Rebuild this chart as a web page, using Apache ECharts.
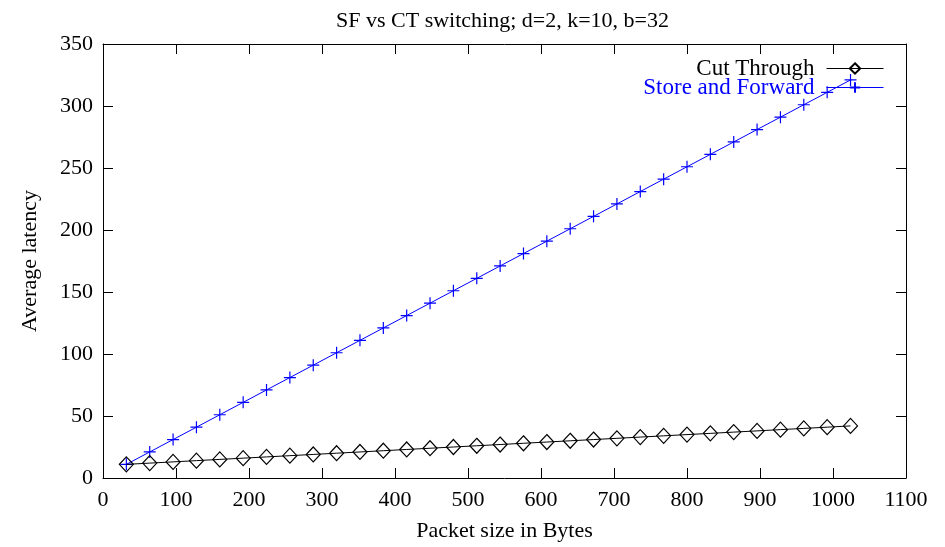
<!DOCTYPE html>
<html><head><meta charset="utf-8">
<script src="https://cdn.jsdelivr.net/npm/echarts@6/dist/echarts.min.js"></script>
<style>html,body{margin:0;padding:0;background:#fff}#c{width:945px;height:547px}</style>
</head><body><div id="c"></div>
<script>
var packetSizes = [32,64,96,128,160,192,224,256,288,320,352,384,416,448,480,512,544,576,608,640,672,704,736,768,800,832,864,896,928,960,992,1024];
var cutThrough = [11,12,13,14,15,16,17,18,19,20,21,22,23,24,25,26,27,28,29,30,31,32,33,34,35,36,37,38,39,40,41,42];
var storeForward = [11,21,31,41,51,61,71,81,91,101,111,121,131,141,151,161,171,181,191,201,211,221,231,241,251,261,271,281,291,301,311,321];
var titleText = 'SF vs CT switching; d=2, k=10, b=32';
var xName = 'Packet size in Bytes';
var yName = 'Average latency';

function pairs(xs, ys){ return xs.map(function(x,i){return [x, ys[i]];}); }
var FONT = '"Liberation Serif", "DejaVu Serif", serif';
var FS = 22;
var chart = echarts.init(document.getElementById('c'), null, {renderer:'canvas'});
function plain(v){ return String(v); }
var axisCommon = {
  axisLine:{show:true, onZero:false, lineStyle:{color:'#000', width:1}},
  axisTick:{show:true, inside:true, length:10, lineStyle:{color:'#000'}},
  splitLine:{show:false},
  nameTextStyle:{color:'#000', fontFamily:FONT, fontSize:FS}
};
chart.setOption({
  animation:false,
  backgroundColor:'#fff',
  title:{text:titleText, left:331, top:5, textStyle:{color:'#000', fontFamily:FONT, fontSize:22, fontWeight:'normal'}},
  grid:{left:103, right:39, top:44, bottom:65},
  legend:{
    right:56, top:52, orient:'vertical', align:'right', itemGap:-4, itemWidth:57, itemHeight:13,
    lineStyle:{width:1},
    textStyle:{fontFamily:FONT, fontSize:23, lineHeight:18, padding:[0,7,0,0]},
    data:[
      {name:'Cut Through', textStyle:{color:'#000'}},
      {name:'Store and Forward', textStyle:{color:'#0000ff'}}
    ]
  },
  xAxis:[
    Object.assign({type:'value', min:0, max:1100, interval:100, name:xName, nameLocation:'middle', nameGap:42}, axisCommon, {axisLabel:{color:'#000', fontFamily:FONT, fontSize:FS, margin:11, formatter:plain}}),
    Object.assign({type:'value', min:0, max:1100, interval:100, position:'top', gridIndex:0}, axisCommon, {axisLabel:{show:false}})
  ],
  yAxis:[
    Object.assign({type:'value', min:0, max:350, interval:50, name:yName, nameLocation:'middle', nameGap:62, nameRotate:90}, axisCommon, {axisLabel:{color:'#000', fontFamily:FONT, fontSize:FS, margin:10, formatter:plain}}),
    Object.assign({type:'value', min:0, max:350, interval:50, position:'right', gridIndex:0}, axisCommon, {axisLabel:{show:false}})
  ],
  series:[
    {name:'Cut Through', type:'line', data:pairs(packetSizes, cutThrough),
     symbol:'diamond', symbolSize:[14,15], showAllSymbol:true,
     lineStyle:{color:'#000', width:1},
     itemStyle:{color:'rgba(255,255,255,0)', borderColor:'#000', borderWidth:1.2}, z:3},
    {name:'Store and Forward', type:'line', data:pairs(packetSizes, storeForward),
     symbol:'path://M0,5L10,5M5,0L5,10', symbolSize:12, showAllSymbol:true,
     lineStyle:{color:'#0000ff', width:1},
     itemStyle:{color:'#0000ff', borderColor:'#0000ff', borderWidth:1.2}, z:2}
  ]
});
</script></body></html>
